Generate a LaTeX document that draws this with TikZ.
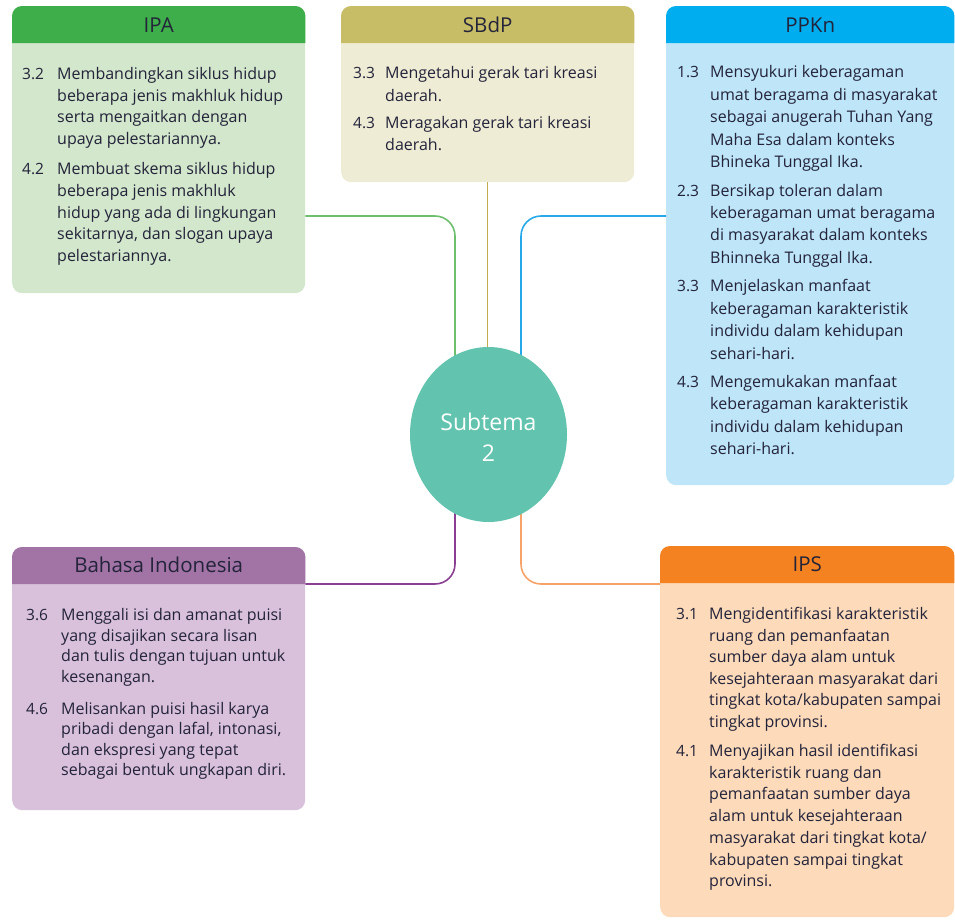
\documentclass[tikz,border=0pt]{standalone}
\usepackage{fontspec}
\setmainfont{Open Sans}
\usetikzlibrary{shapes.geometric}
\definecolor{ipaH}{HTML}{3DAE49}
\definecolor{ipaB}{HTML}{D2E7CB}
\definecolor{ipaL}{HTML}{6DBE6D}
\definecolor{sbH}{HTML}{C8BD67}
\definecolor{sbB}{HTML}{EFECD5}
\definecolor{sbL}{HTML}{BFAE4E}
\definecolor{ppH}{HTML}{00AEEF}
\definecolor{ppB}{HTML}{BEE5F8}
\definecolor{ppL}{HTML}{27A9E9}
\definecolor{biH}{HTML}{A274A6}
\definecolor{biB}{HTML}{D9C1DB}
\definecolor{biL}{HTML}{8B3F93}
\definecolor{isH}{HTML}{F58220}
\definecolor{isB}{HTML}{FCDABA}
\definecolor{isL}{HTML}{F7A266}
\definecolor{subC}{HTML}{62C4AE}
\definecolor{txt}{HTML}{23233A}
\tikzset{
  panel/.style={rectangle, rounded corners=10pt, anchor=north west, inner sep=0pt},
  head/.style={text=txt, font=\fontsize{20.5}{24}\selectfont, inner sep=0pt},
  num/.style={anchor=base west, inner sep=0pt, text=txt, font=\fontsize{15.5}{21.5}\selectfont},
  body/.style={anchor=base west, inner sep=0pt, text=txt, font=\fontsize{16}{#1}\selectfont},
  link/.style={line width=1.6pt, rounded corners=20pt},
}
\newcommand\lns[1]{\begin{tabular}[t]{@{}l@{}}#1\end{tabular}}
\begin{document}
\begin{tikzpicture}[x=1pt,y=-1pt]
\useasboundingbox (0,0) rectangle (955,919);
% panels
\node[panel, fill=ipaB, minimum width=293pt, minimum height=287pt] (ipa) at (12,6) {};
\node[panel, fill=sbB, minimum width=293pt, minimum height=176pt] (sbdp) at (341,6) {};
\node[panel, fill=ppB, minimum width=288pt, minimum height=479pt] (ppkn) at (666,6) {};
\node[panel, fill=biB, minimum width=293pt, minimum height=263pt] (bind) at (12,547) {};
\node[panel, fill=isB, minimum width=294pt, minimum height=371pt] (ips) at (660,546) {};
% headers
\foreach \b/\c in {ipa/ipaH, sbdp/sbH, ppkn/ppH, bind/biH, ips/isH}{
  \fill[\c] ([yshift=-37pt]\b.north west) [rounded corners=10pt] -- (\b.north west) -- (\b.north east) [sharp corners] -- ([yshift=-37pt]\b.north east) -- cycle;
}
\node[head] (hipa) at ([yshift=-19pt]ipa.north) {IPA};
\node[head] (hsbdp) at ([yshift=-19pt]sbdp.north) {SBdP};
\node[head] (hppkn) at ([yshift=-19pt]ppkn.north) {PPKn};
\node[head] (hbind) at ([yshift=-18pt]bind.north) {Bahasa Indonesia};
\node[head] (hips) at ([yshift=-18pt]ips.north) {IPS};
% connectors
\node[ellipse, minimum width=157pt, minimum height=175pt, inner sep=0pt] (sub) at (488.5,434.5) {};
\draw[link, ipaL] ([yshift=-210pt]ipa.north east) -| ([xshift=-33.5pt]sub.center);
\draw[link, sbL, line width=1.5pt] (sbdp.south) -- (sbdp.south |- sub.center);
\draw[link, ppL] ([yshift=-210pt]ppkn.north west) -| ([xshift=32.5pt]sub.center);
\draw[link, biL] ([yshift=-37pt]bind.north east) -| ([xshift=-33.5pt]sub.center);
\draw[link, isL] ([yshift=-38pt]ips.north west) -| ([xshift=32.5pt]sub.center);
\fill[subC] (sub.center) ellipse [x radius=78.5pt, y radius=87.5pt];
\node[text=white, align=center, font=\fontsize{23}{31}\selectfont, inner sep=0pt] (subt) at (488.5,437) {Subtema\\2};
% IPA
\node[num] (n1) at (22,79.5) {3.2};
\node[body=21.5] (t1) at (57,79.5) {\lns{Membandingkan siklus hidup\\beberapa jenis makhluk hidup\\serta mengaitkan dengan\\upaya pelestariannya.}};
\node[num] (n2) at (22,174.5) {4.2};
\node[body=21.8] (t2) at (57,174.5) {\lns{Membuat skema siklus hidup\\beberapa jenis makhluk\\hidup yang ada di lingkungan\\sekitarnya, dan slogan upaya\\pelestariannya.}};
% SBdP
\node[num] (n3) at (353,78.5) {3.3};
\node[body=22.5] (t3) at (385,78.5) {\lns{Mengetahui gerak tari kreasi\\daerah.}};
\node[num] (n4) at (353,128.5) {4.3};
\node[body=21.5] (t4) at (385,128.5) {\lns{Meragakan gerak tari kreasi\\daerah.}};
% PPKn
\node[num] (n5) at (677,77.5) {1.3};
\node[body=22.5] (t5) at (710,77.5) {\lns{Mensyukuri keberagaman\\umat beragama di masyarakat\\sebagai anugerah Tuhan Yang\\Maha Esa dalam konteks\\Bhineka Tunggal Ika.}};
\node[num] (n6) at (677,196.5) {2.3};
\node[body=22.2] (t6) at (710,196.5) {\lns{Bersikap toleran dalam\\keberagaman umat beragama\\di masyarakat dalam konteks\\Bhinneka Tunggal Ika.}};
\node[num] (n7) at (677,291.5) {3.3};
\node[body=22.6] (t7) at (710,291.5) {\lns{Menjelaskan manfaat\\keberagaman karakteristik\\individu dalam kehidupan\\sehari-hari.}};
\node[num] (n8) at (677,387.5) {4.3};
\node[body=22.3] (t8) at (710,387.5) {\lns{Mengemukakan manfaat\\keberagaman karakteristik\\individu dalam kehidupan\\sehari-hari.}};
% Bahasa Indonesia
\node[num] (n9) at (26,620.5) {3.6};
\node[body=20.7] (t9) at (61,620.5) {\lns{Menggali isi dan amanat puisi\\yang disajikan secara lisan\\dan tulis dengan tujuan untuk\\kesenangan.}};
\node[num] (n10) at (26,714.5) {4.6};
\node[body=20.4] (t10) at (61,714.5) {\lns{Melisankan puisi hasil karya\\pribadi dengan lafal, intonasi,\\dan ekspresi yang tepat\\sebagai bentuk ungkapan diri.}};
% IPS
\node[num] (n11) at (676,619.5) {3.1};
\node[body=21.6] (t11) at (709,619.5) {\lns{Mengidentifikasi karakteristik\\ruang dan pemanfaatan\\sumber daya alam untuk\\kesejahteraan masyarakat dari\\tingkat kota/kabupaten sampai\\tingkat provinsi.}};
\node[num] (n12) at (676,756.5) {4.1};
\node[body=21.7] (t12) at (709,756.5) {\lns{Menyajikan hasil identifikasi\\karakteristik ruang dan\\pemanfaatan sumber daya\\alam untuk kesejahteraan\\masyarakat dari tingkat kota/\\kabupaten sampai tingkat\\provinsi.}};
\end{tikzpicture}
\end{document}
